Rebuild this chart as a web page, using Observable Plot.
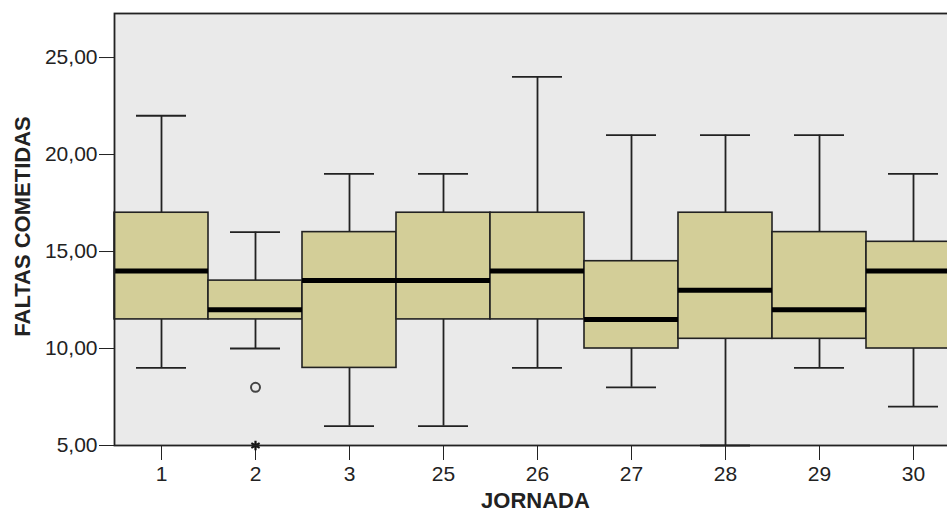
<!DOCTYPE html>
<html>
<head>
<meta charset="utf-8">
<script src="https://cdn.jsdelivr.net/npm/d3@7"></script>
<script src="https://cdn.jsdelivr.net/npm/@observablehq/plot@0.6"></script>
<style>
  html, body { margin: 0; padding: 0; background: #fff; overflow: hidden; }
  #chart svg { display: block; max-width: none !important; width: 960px; height: 517px; }
</style>
</head>
<body>
<div id="chart"></div>
<script>
const jornadas = ["1", "2", "3", "25", "26", "27", "28", "29", "30"];
const whiskerLow = [9, 10, 6, 6, 9, 8, 5, 9, 7];
const quartile1 = [11.5, 11.5, 9, 11.5, 11.5, 10, 10.5, 10.5, 10];
const medians = [14, 12, 13.5, 13.5, 14, 11.5, 13, 12, 14];
const quartile3 = [17, 13.5, 16, 17, 17, 14.5, 17, 16, 15.5];
const whiskerHigh = [22, 16, 19, 19, 24, 21, 21, 21, 19];
const outlierJornada = ["2"];
const outlierValue = [8];
const extremeJornada = ["2"];
const extremeValue = [5];
const yTicks = [5, 10, 15, 20, 25];

const boxes = jornadas.map((j, i) => ({
  jornada: j, lo: whiskerLow[i], q1: quartile1[i], med: medians[i], q3: quartile3[i], hi: whiskerHigh[i]
}));
const outliers = outlierJornada.map((j, i) => ({jornada: j, value: outlierValue[i]}));
const extremes = extremeJornada.map((j, i) => ({jornada: j, value: extremeValue[i]}));

const ink = "#222";
const fmt = d => d.toFixed(2).replace(".", ",");

const chart = Plot.plot({
  width: 960,
  height: 517,
  marginLeft: 114,
  marginRight: 0,
  marginTop: 13,
  marginBottom: 72,
  style: {fontFamily: "'Liberation Sans', Arial, sans-serif", fontSize: "21px", color: ink, background: "#fff"},
  x: {domain: jornadas, padding: 0, label: null, tickSize: 15, tickPadding: 6},
  y: {domain: [5, 27.27], ticks: yTicks, tickFormat: fmt, label: null, tickSize: 15, tickPadding: 2},
  marks: [
    Plot.frame({fill: "#EAEAEA", stroke: null}),
    Plot.ruleX(boxes, {x: "jornada", y1: "lo", y2: "q1", stroke: ink, strokeWidth: 1.8}),
    Plot.ruleX(boxes, {x: "jornada", y1: "q3", y2: "hi", stroke: ink, strokeWidth: 1.8}),
    Plot.tickY(boxes, {x: "jornada", y: "lo", insetLeft: 22, insetRight: 22, stroke: ink, strokeWidth: 1.8}),
    Plot.tickY(boxes, {x: "jornada", y: "hi", insetLeft: 22, insetRight: 22, stroke: ink, strokeWidth: 1.8}),
    Plot.barY(boxes, {x: "jornada", y1: "q1", y2: "q3", fill: "#D3CE98", stroke: ink, strokeWidth: 1.6}),
    Plot.tickY(boxes, {x: "jornada", y: "med", stroke: "#000", strokeWidth: 5}),
    Plot.dot(outliers, {x: "jornada", y: "value", r: 4.5, stroke: "#444", strokeWidth: 2, fill: "none"}),
    Plot.dot(extremes, {x: "jornada", y: "value", r: 4.5, symbol: "asterisk", stroke: "#111", strokeWidth: 2.2}),
    Plot.frame({stroke: ink, strokeWidth: 1.8}),
    Plot.text(["FALTAS COMETIDAS"], {frameAnchor: "left", textAnchor: "middle", dx: -92, dy: -3, rotate: -90, fontWeight: "bold", fontSize: 22, fill: ink}),
    Plot.text(["JORNADA"], {frameAnchor: "bottom", dx: -2, dy: 62, fontWeight: "bold", fontSize: 22, fill: ink})
  ]
});
document.getElementById("chart").append(chart);
</script>
</body>
</html>
